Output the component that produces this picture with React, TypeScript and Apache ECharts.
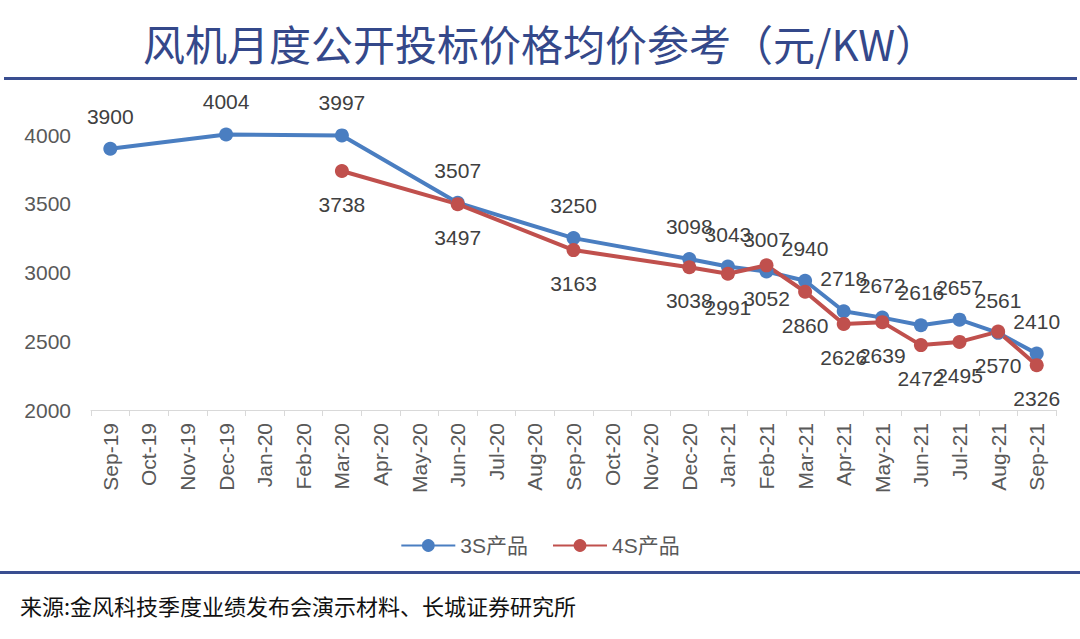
import React, { useEffect, useRef } from "react";
import * as echarts from "echarts";

const categories = [
  "Sep-19", "Oct-19", "Nov-19", "Dec-19", "Jan-20", "Feb-20", "Mar-20", "Apr-20", "May-20",
  "Jun-20", "Jul-20", "Aug-20", "Sep-20", "Oct-20", "Nov-20", "Dec-20", "Jan-21", "Feb-21",
  "Mar-21", "Apr-21", "May-21", "Jun-21", "Jul-21", "Aug-21", "Sep-21",
];
const s3 = [
  3900, null, null, 4004, null, null, 3997, null, null, 3507, null, null, 3250, null, null,
  3098, 3043, 3007, 2940, 2718, 2672, 2616, 2657, 2561, 2410,
];
const s4 = [
  null, null, null, null, null, null, 3738, null, null, 3497, null, null, 3163, null, null,
  3038, 2991, 3052, 2860, 2626, 2639, 2472, 2495, 2570, 2326,
];
const titleText = "风机月度公开投标价格均价参考（元/KW）";
const sourceText = "来源:金风科技季度业绩发布会演示材料、长城证券研究所";
const seriesNames = ["3S产品", "4S产品"];

export default function App() {
  const ref = useRef<HTMLDivElement>(null);
  useEffect(() => {
    document.body.style.margin = "0";
    const chart = echarts.init(ref.current!, null, { renderer: "svg" });
    const labelFont = {
      fontFamily: "Liberation Sans, Arial, sans-serif",
      fontSize: 21,
      color: "#404040",
    };
    chart.setOption({
      animation: false,
      backgroundColor: "#ffffff",
      title: {
        text: titleText,
        left: "center",
        top: 16,
        textStyle: {
          fontFamily: "Noto Sans CJK SC, sans-serif",
          fontSize: 42,
          fontWeight: "normal",
          color: "#34488A",
        },
      },
      graphic: [
        {
          type: "rect",
          shape: { x: 4, y: 77, width: 1073, height: 3 },
          style: { fill: "#3A4E90" },
        },
        {
          type: "rect",
          shape: { x: 0, y: 571, width: 1080, height: 3 },
          style: { fill: "#3A4E90" },
        },
        {
          type: "text",
          x: 20,
          y: 594,
          style: {
            text: sourceText,
            fontFamily: "Noto Sans CJK SC, sans-serif",
            fontSize: 22,
            fill: "#111111",
          },
        },
      ],
      legend: {
        data: seriesNames,
        top: 530,
        left: "center",
        itemWidth: 54,
        itemHeight: 16,
        itemGap: 24,
        textStyle: {
          fontFamily: "Liberation Sans, Noto Sans CJK SC, sans-serif",
          fontSize: 21,
          color: "#595959",
        },
      },
      grid: { left: 91, right: 24, top: 135, bottom: 229, containLabel: false },
      xAxis: {
        type: "category",
        data: categories,
        boundaryGap: true,
        axisLine: { lineStyle: { color: "#d9d9d9", width: 1 } },
        axisTick: { show: true, length: 6, lineStyle: { color: "#d9d9d9" } },
        axisLabel: {
          rotate: 90,
          interval: 0,
          margin: 13,
          fontFamily: "Liberation Sans, Arial, sans-serif",
          fontSize: 21,
          color: "#595959",
        },
      },
      yAxis: {
        type: "value",
        min: 2000,
        max: 4000,
        interval: 500,
        splitLine: { show: false },
        axisLine: { show: false },
        axisTick: { show: false },
        axisLabel: {
          margin: 20,
          formatter: (v: number) => String(v),
          fontFamily: "Liberation Sans, Arial, sans-serif",
          fontSize: 21,
          color: "#595959",
        },
      },
      series: [
        {
          name: seriesNames[0],
          type: "line",
          data: s3,
          connectNulls: true,
          clip: false,
          symbol: "circle",
          symbolSize: 14,
          itemStyle: { color: "#4A7EC1" },
          lineStyle: { width: 4, color: "#4A7EC1" },
          label: { show: true, position: "top", distance: 15, ...labelFont },
        },
        {
          name: seriesNames[1],
          type: "line",
          data: s4,
          connectNulls: true,
          clip: false,
          symbol: "circle",
          symbolSize: 14,
          itemStyle: { color: "#C0504D" },
          lineStyle: { width: 4, color: "#C0504D" },
          label: { show: true, position: "bottom", distance: 16, ...labelFont },
        },
      ],
    });
    return () => chart.dispose();
  }, []);
  return <div ref={ref} style={{ width: 1080, height: 639 }} />;
}
